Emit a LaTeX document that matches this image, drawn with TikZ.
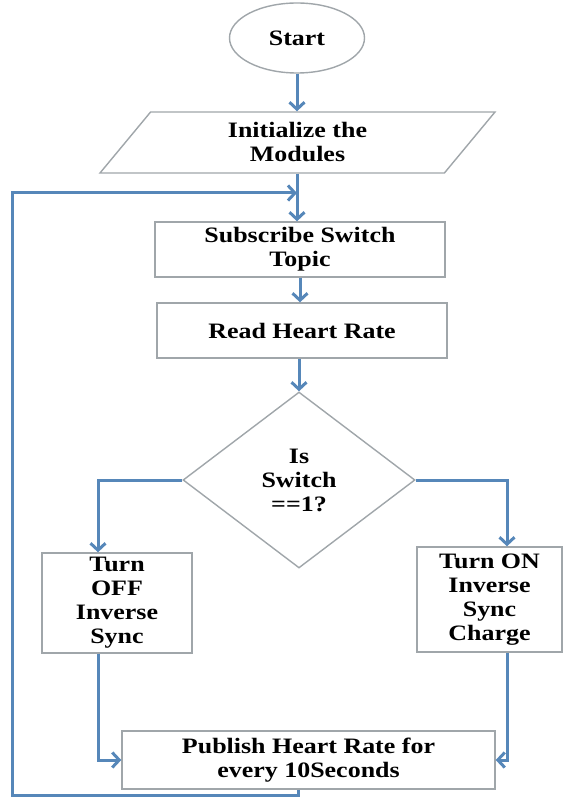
\documentclass[tikz,border=0pt]{standalone}
\usepackage{fontspec}
\setmainfont{Liberation Serif}[FakeStretch=1.18]
\usetikzlibrary{shapes.geometric,arrows.meta}
\definecolor{flowblue}{RGB}{86,135,185}
\definecolor{boxgray}{RGB}{160,166,170}

\begin{document}
\begin{tikzpicture}[x=1pt,y=-1pt,
  box/.style={draw=boxgray,line width=1.4pt,fill=white,align=center,
    font=\fontsize{22}{24}\selectfont\bfseries,inner sep=0pt},
  flow/.style={draw=flowblue,line width=3pt,
    -{Straight Barb[length=7pt,width=15pt]}}]
\useasboundingbox (0,0) rectangle (565,799);
%%%%%%%%%%%%%%%%%%%%%%%%%%%%%%%%
%% main column
%%%%%%%%%%%%%%%%%%%%%%%%%%%%%%%%
\node[box,ellipse,minimum width=135pt,minimum height=70pt] (start) at (297,38) {Start};
\node[box,trapezium,trapezium left angle=38,trapezium right angle=142,
  trapezium stretches body,minimum width=395pt,minimum height=61pt] (init) at (297.5,142.5) {Initialize the\\Modules};
\node[box,minimum width=290pt,minimum height=55pt] (sub)  at (300,249.5) {Subscribe Switch\\Topic};
\node[box,minimum width=290pt,minimum height=55pt] (read) at (302,330.5) {Read Heart Rate};
\node[box,diamond,aspect=1.32,minimum width=232pt,minimum height=176pt] (dec) at (299,480) {Is\\Switch\\==1?};
%
%%%%%%%%%%%%%%%%%%%%%%%%%%%%%%%%
%% branches
%%%%%%%%%%%%%%%%%%%%%%%%%%%%%%%%
\node[box,minimum width=150pt,minimum height=100pt] (off) at (117,603) {Turn\\OFF\\Inverse\\Sync};
\node[box,minimum width=145pt,minimum height=105pt] (on)  at (489.5,599.5) {Turn ON\\Inverse\\Sync\\Charge};
\node[box,minimum width=373pt,minimum height=58pt] (pub) at (308.5,760) {Publish Heart Rate for\\every 10Seconds};
%
%%%%%%%%%%%%%%%%%%%%%%%%%%%%%%%%
%% arrows
%%%%%%%%%%%%%%%%%%%%%%%%%%%%%%%%
\coordinate (loopin) at (start.south |- 0,193);
\coordinate (loopcorner) at (12,193);

\draw[flow] (start.south) -- (start.south |- init.north);
\draw[flow] (start.south |- init.south) -- (start.south |- sub.north);
\draw[flow] (sub.south) -- (sub.south |- read.north);
\draw[flow] (dec.north |- read.south) -- (dec.north);

\draw[flow] (dec.west) -| ([xshift=-19pt]off.north);
\draw[flow] (dec.east) -| ([xshift=17.5pt]on.north);
\draw[flow] ([xshift=-19pt]off.south) |- (pub.west);
\draw[flow] ([xshift=17.5pt]on.south) |- (pub.east);

\draw[flow] ([xshift=-10pt]pub.south) -- ++(0,6) -| (loopcorner) -- (loopin);
\end{tikzpicture}
\end{document}
